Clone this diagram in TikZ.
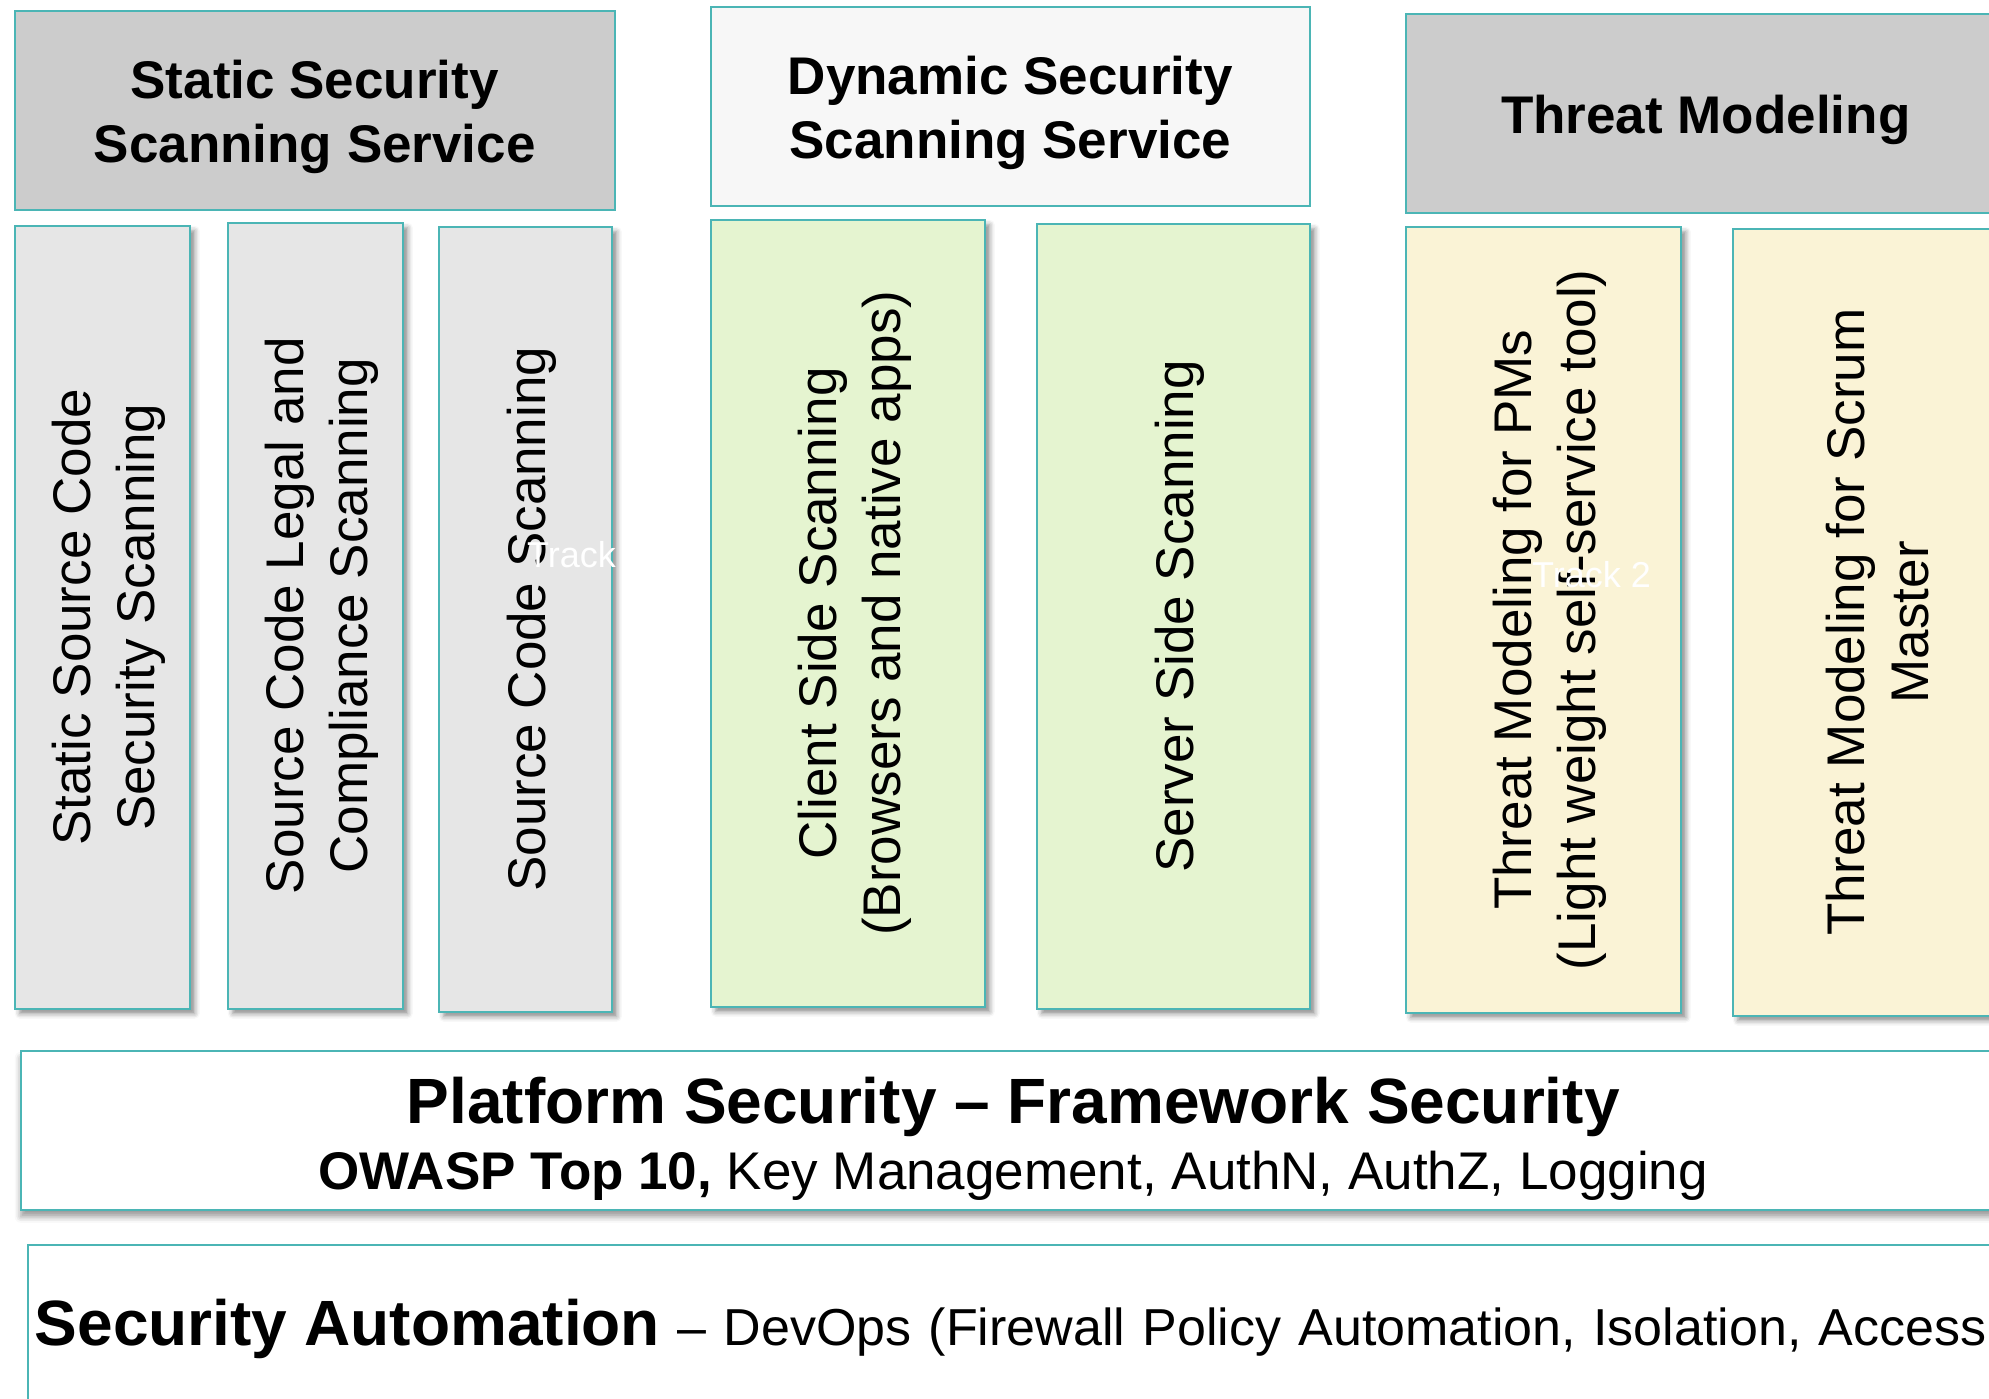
\documentclass[tikz,border=0pt]{standalone}
\usepackage{fontspec}
\setmainfont{Liberation Sans}
\usepackage{xcolor}
\usetikzlibrary{positioning, shadows.blur}

\definecolor{boxline}{RGB}{75,181,181}
\definecolor{headgray}{RGB}{204,204,204}
\definecolor{headwhite}{RGB}{247,247,247}
\definecolor{staticfill}{RGB}{230,230,230}
\definecolor{dynfill}{RGB}{229,244,208}
\definecolor{threatfill}{RGB}{250,243,214}

% rotated, centred column text
\newcommand{\coltext}[1]{\rotatebox{90}{\parbox{740pt}{\centering\rule{0pt}{52pt}#1}}}

\begin{document}
\begin{tikzpicture}[
  x=1pt, y=-1pt,
  servicehead/.style={draw=boxline, line width=1.5pt, anchor=north west, inner sep=0pt, align=center, font=\fontsize{53}{64}\selectfont\bfseries},
  trackbox/.style={draw=boxline, line width=1.5pt, anchor=north west, inner sep=0pt, font=\fontsize{53}{64}\selectfont,
    blur shadow={shadow xshift=5pt, shadow yshift=-5pt, shadow blur radius=5pt, shadow opacity=45}},
  layerbar/.style={draw=boxline, line width=1.5pt, anchor=north west, fill=white},
  tracklabel/.style={text=white, anchor=base west, inner sep=0pt, font=\fontsize{36}{43}\selectfont}
]
\useasboundingbox (0,0) rectangle (1989,1398);
\clip (0,0) rectangle (1989,1398);

% Service headers
\node[servicehead, fill=headgray, minimum width=600pt, minimum height=199pt] (static) at (14,10) {\rule{0pt}{52pt}Static Security\\Scanning Service};
\node[servicehead, fill=headwhite, minimum width=599pt, minimum height=199pt] (dynamic) at (710,6) {\rule{0pt}{52pt}Dynamic Security\\Scanning Service};
\node[servicehead, fill=headgray, minimum width=600pt, minimum height=199pt] (threat) at (1405,13) {\rule{0pt}{52pt}Threat Modeling};

% Static tracks
\node[trackbox, fill=staticfill, minimum width=175pt, minimum height=783pt] (sast) at (14,225) {\coltext{Static Source Code\\Security Scanning}};
\node[trackbox, fill=staticfill, minimum width=175pt, minimum height=786pt] (legal) at (227,222) {\coltext{Source Code Legal and\\Compliance Scanning}};
\node[trackbox, fill=staticfill, minimum width=173pt, minimum height=785pt] (scode) at (438,226) {\coltext{Source Code Scanning}};

% Dynamic tracks
\node[trackbox, fill=dynfill, minimum width=274pt, minimum height=787pt] (client) at (710,219) {\coltext{Client Side Scanning\\(Browsers and native apps)}};
\node[trackbox, fill=dynfill, minimum width=273pt, minimum height=785pt] (server) at (1036,223) {\coltext{Server Side Scanning}};

% Threat modeling tracks
\node[trackbox, fill=threatfill, minimum width=275pt, minimum height=786pt] (tmpm) at (1405,226) {\coltext{Threat Modeling for PMs\\(Light weight self-service tool)}};
\node[trackbox, fill=threatfill, minimum width=275pt, minimum height=787pt] (tmsm) at (1732,228) {\coltext{Threat Modeling for Scrum\\Master}};

% Platform and automation layers
\node[layerbar, minimum width=1985pt, minimum height=159pt, inner sep=0pt, align=center, font=\fontsize{53}{66}\selectfont,
  blur shadow={shadow xshift=0pt, shadow yshift=-7pt, shadow blur radius=6pt, shadow opacity=40}] (platform) at (20,1050)
  {{\fontsize{64}{66}\selectfont\bfseries\rule{0pt}{64pt}Platform Security -- Framework Security}\\{\textbf{OWASP Top 10,} Key Management, AuthN, AuthZ, Logging}};
\node[layerbar, minimum height=168pt, inner xsep=7pt, text width=2300pt, align=left, font=\fontsize{52}{64}\selectfont] (automation) at (27,1244)
  {{\fontsize{64}{70}\selectfont\bfseries Security Automation} -- DevOps (Firewall Policy Automation, Isolation, Access};

% Track placeholders
\node[tracklabel] (tracka) at (527,567) {Track};
\node[tracklabel] (trackb) at (1532,587) {Track 2};

\end{tikzpicture}
\end{document}
